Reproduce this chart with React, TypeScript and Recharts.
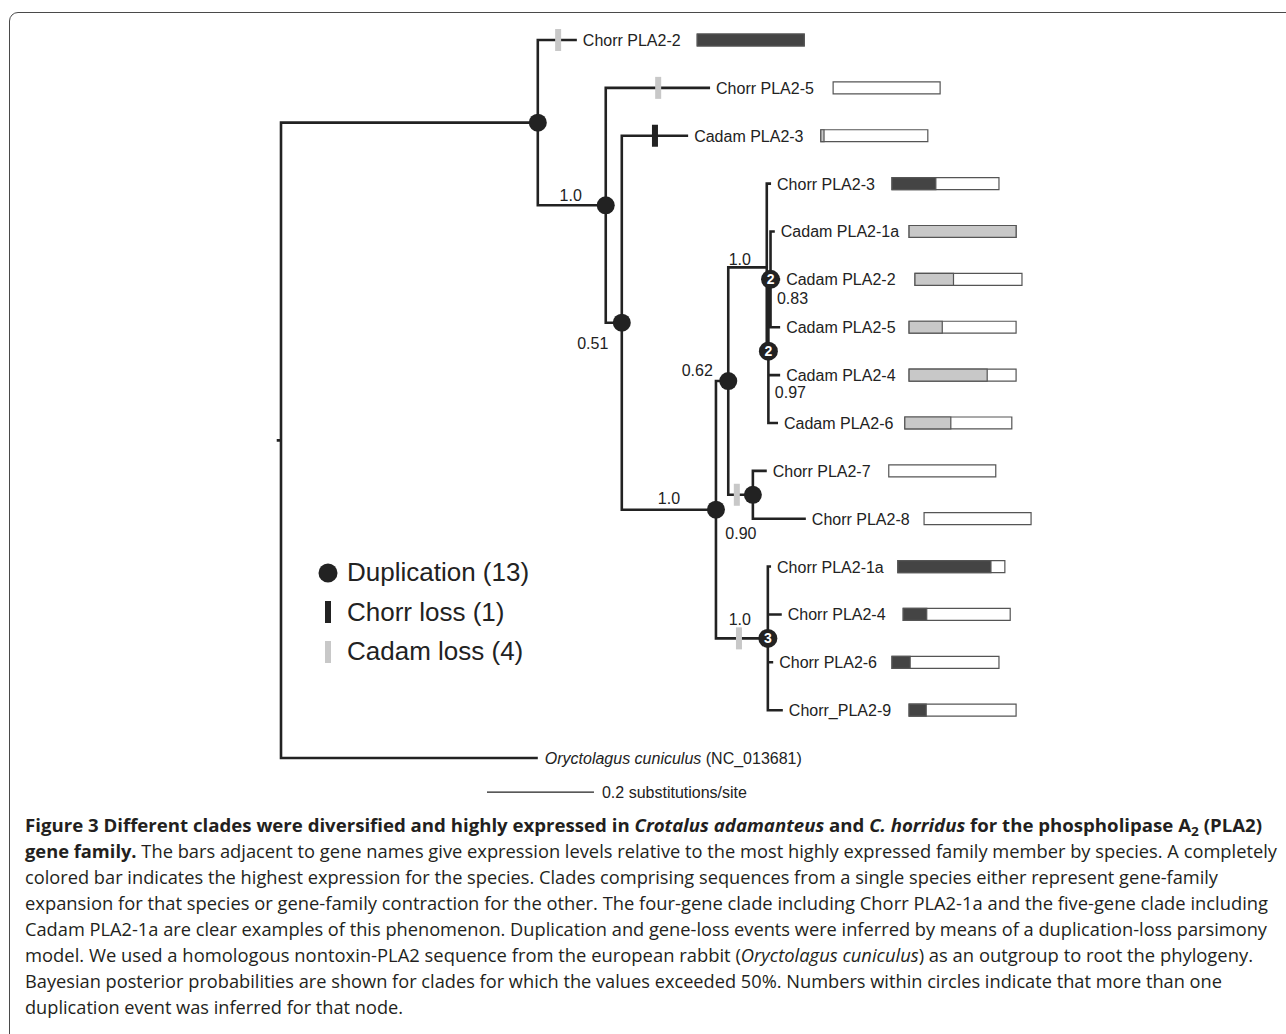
import React from 'react'
import {ComposedChart, Legend, Line, ReferenceArea, ReferenceLine, Scatter, XAxis, YAxis} from 'recharts'

// leaves, listed top to bottom (row = index)
const leafNames = [
    'Chorr PLA2-2', 'Chorr PLA2-5', 'Cadam PLA2-3', 'Chorr PLA2-3', 'Cadam PLA2-1a', 'Cadam PLA2-2',
    'Cadam PLA2-5', 'Cadam PLA2-4', 'Cadam PLA2-6', 'Chorr PLA2-7', 'Chorr PLA2-8', 'Chorr PLA2-1a',
    'Chorr PLA2-4', 'Chorr PLA2-6', 'Chorr_PLA2-9', 'Oryctolagus cuniculus',
]
const leafSpecies = [
    'Chorr', 'Chorr', 'Cadam', 'Chorr', 'Cadam', 'Cadam', 'Cadam', 'Cadam', 'Cadam',
    'Chorr', 'Chorr', 'Chorr', 'Chorr', 'Chorr', 'Chorr', 'Rabbit',
]
const leafParents = ['A', 'B', 'C', 'F', 'H2', 'H2', 'H2', 'H', 'H', 'G', 'G', 'N3', 'N3', 'N3', 'N3', 'root']
// distance from root, substitutions/site
const leafDepths = [0.553, 0.802, 0.761, 0.916, 0.923, 0.933, 0.933, 0.933, 0.929, 0.908, 0.981, 0.916, 0.936, 0.92, 0.938, 0.48]
// expression relative to the most expressed member of the species
const expression = [1.0, 0, 0.03, 0.41, 1.0, 0.36, 0.31, 0.73, 0.43, 0, 0, 0.87, 0.22, 0.17, 0.16, null]
// where each expression bar starts (same units as the tree)
const barStarts = [0.778, 1.032, 1.009, 1.142, 1.174, 1.185, 1.174, 1.174, 1.166, 1.136, 1.202, 1.153, 1.163, 1.142, 1.174, null]
const outgroupAccession = 'NC_013681'

// internal nodes
const nodeIds = ['root', 'A', 'B', 'C', 'D', 'E', 'F', 'H', 'H2', 'G', 'N3']
const nodeParents = [null, 'root', 'A', 'B', 'C', 'D', 'E', 'F', 'H', 'E', 'D']
const nodeDepths = [0, 0.48, 0.607, 0.637, 0.813, 0.836, 0.908, 0.911, 0.915, 0.882, 0.91]
const duplications = [0, 1, 1, 1, 1, 1, 0, 2, 2, 1, 3]
const support = [null, null, '1.0', '0.51', '1.0', '0.62', '1.0', '0.97', '0.83', '0.90', '1.0']

// gene losses: branch (named by its child), position along it, species
const lossBranches = ['Chorr PLA2-2', 'Chorr PLA2-5', 'Cadam PLA2-3', 'G', 'N3']
const lossDepths = [0.518, 0.705, 0.699, 0.852, 0.856]
const lossSpecies = ['Cadam', 'Cadam', 'Chorr', 'Cadam', 'Cadam']

const legendLabels = ['Duplication (13)', 'Chorr loss (1)', 'Cadam loss (4)']
const scaleBarValue = 0.2

const captionLines = [
    [{t: 'Figure 3 Different clades were diversified and highly expressed in ', b: 1}, {t: 'Crotalus adamanteus', b: 1, i: 1}, {t: ' and ', b: 1}, {t: 'C. horridus', b: 1, i: 1}, {t: ' for the phospholipase A', b: 1}, {t: '2', b: 1, sub: 1}, {t: ' (PLA2)', b: 1}],
    [{t: 'gene family.', b: 1}, {t: ' The bars adjacent to gene names give expression levels relative to the most highly expressed family member by species. A completely'}],
    [{t: 'colored bar indicates the highest expression for the species. Clades comprising sequences from a single species either represent gene-family'}],
    [{t: 'expansion for that species or gene-family contraction for the other. The four-gene clade including Chorr PLA2-1a and the five-gene clade including'}],
    [{t: 'Cadam PLA2-1a are clear examples of this phenomenon. Duplication and gene-loss events were inferred by means of a duplication-loss parsimony'}],
    [{t: 'model. We used a homologous nontoxin-PLA2 sequence from the european rabbit ('}, {t: 'Oryctolagus cuniculus', i: 1}, {t: ') as an outgroup to root the phylogeny.'}],
    [{t: 'Bayesian posterior probabilities are shown for clades for which the values exceeded 50%. Numbers within circles indicate that more than one'}],
    [{t: 'duplication event was inferred for that node.'}],
]
const captionRight = [1262, 1277, 1218, 1268, 1267, 1253, 1222, 403]

// layout
const W = 1286
const H = 810
const ROOT_PX = 281
const UNIT_PX = 535
const TOP_PX = 40
const ROW_PX = 47.87
const X_DOMAIN = [-ROOT_PX / UNIT_PX, (W - ROOT_PX) / UNIT_PX]
const Y_DOMAIN = [-TOP_PX / ROW_PX, (H - TOP_PX) / ROW_PX]
const FONT = '"Liberation Sans", Arial, Helvetica, sans-serif'
const INK = '#222'
const speciesColor: Record<string, string> = {Chorr: '#444444', Cadam: '#c8c8c8'}
const supportOffset: Record<string, [number, number]> = {
    B: [-35, -4], C: [-29, 26], D: [-47, -6], E: [-31, -5], F: [-27, -2],
    H: [22, 47], H2: [22, 25], G: [-12, 44], N3: [-28, -13],
}

const depthOf = (id: string): number => {
    const li = leafNames.indexOf(id)
    return li >= 0 ? leafDepths[li] : nodeDepths[nodeIds.indexOf(id)]
}
const rowOf = (id: string): number => {
    const li = leafNames.indexOf(id)
    if (li >= 0) return li
    const kids = [
        ...leafNames.filter((_, i) => leafParents[i] === id),
        ...nodeIds.filter((_, i) => nodeParents[i] === id),
    ]
    const rows = kids.map(rowOf)
    return (Math.min(...rows) + Math.max(...rows)) / 2
}
const parentOf = (id: string): string | null => {
    const li = leafNames.indexOf(id)
    return li >= 0 ? leafParents[li] : nodeParents[nodeIds.indexOf(id)]
}

// elbow edges, one polyline broken by nulls
const edgePoints: {x: number, y: number | null}[] = []
const rootRow = rowOf('root')
edgePoints.push({x: -0.008, y: rootRow}, {x: 0, y: rootRow}, {x: 0, y: null})
;[...nodeIds.slice(1), ...leafNames].forEach((id) => {
    const p = parentOf(id) as string
    edgePoints.push(
        {x: depthOf(p), y: rowOf(p)},
        {x: depthOf(p), y: rowOf(id)},
        {x: depthOf(id), y: rowOf(id)},
        {x: depthOf(id), y: null},
    )
})

const dupPoints = nodeIds
    .map((id, i) => ({x: nodeDepths[i], y: rowOf(id), n: duplications[i]}))
    .filter((d) => d.n > 0)
const supportPoints = nodeIds
    .map((id, i) => ({x: nodeDepths[i], y: rowOf(id), id, v: support[i]}))
    .filter((d) => d.v)
const lossPoints = lossBranches.map((b, i) => ({x: lossDepths[i], y: rowOf(b), s: lossSpecies[i]}))
const leafPoints = leafNames.map((name, i) => ({x: leafDepths[i], y: i, name, outgroup: leafSpecies[i] === 'Rabbit'}))
const scaleRow = 15.71
const scaleStart = 0.385

const renderDup = (props: any) => {
    const {cx, cy, payload} = props
    if (payload.n > 1) {
        return (
            <g>
                <circle cx={cx} cy={cy} r={9.5} fill={INK} />
                <text x={cx} y={cy + 5} textAnchor="middle" fontSize={14} fontWeight="bold" fill="#fff">{payload.n}</text>
            </g>
        )
    }
    return <circle cx={cx} cy={cy} r={9} fill={INK} />
}
const renderLoss = (props: any) => {
    const {cx, cy, payload} = props
    return <rect x={cx - 3} y={cy - 11} width={6} height={22} fill={payload.s === 'Chorr' ? INK : '#c8c8c8'} />
}
const renderLeaf = (props: any) => {
    const {cx, cy, payload} = props
    if (payload.outgroup) {
        return (
            <text x={cx + 7} y={cy + 6} fontSize={16} fill={INK}>
                <tspan fontStyle="italic">{payload.name}</tspan> ({outgroupAccession})
            </text>
        )
    }
    return <text x={cx + 6} y={cy + 6} fontSize={16} fill={INK}>{payload.name}</text>
}
const renderSupport = (props: any) => {
    const {cx, cy, payload} = props
    const [dx, dy] = supportOffset[payload.id] || [0, 0]
    return <text x={cx + dx} y={cy + dy} textAnchor="middle" fontSize={16} fill={INK}>{payload.v}</text>
}
const renderScaleLabel = (props: any) => (
    <text x={props.cx + 8} y={props.cy + 6} fontSize={16} fill={INK}>{scaleBarValue} substitutions/site</text>
)

const legendIcon = (i: number) => {
    if (i === 0) return <circle cx={10} cy={13} r={9.5} fill={INK} />
    return <rect x={7} y={2} width={6} height={22} fill={i === 1 ? INK : '#c8c8c8'} />
}
const renderLegend = () => (
    <div style={{fontFamily: FONT, fontSize: 26, color: INK}}>
        {legendLabels.map((label, i) => (
            <div key={label} style={{display: 'flex', alignItems: 'center', height: 39.5}}>
                <svg width={20} height={26}>{legendIcon(i)}</svg>
                <span style={{marginLeft: 9, whiteSpace: 'nowrap'}}>{label}</span>
            </div>
        ))}
    </div>
)

const Caption = () => (
    <svg width={W} height={230} style={{position: 'absolute', left: 0, top: 800}}>
        {captionLines.map((runs, li) => (
            <text
                key={li}
                x={25}
                y={32 + li * 26}
                textLength={captionRight[li] - 25}
                lengthAdjust="spacingAndGlyphs"
                fontFamily='"Open Sans", "DejaVu Sans", sans-serif'
                fontSize={17.8}
                fill="#231f20"
            >
                {runs.map((r: any, k) => {
                    const prevSub = k > 0 && (runs[k - 1] as any).sub
                    return (
                        <tspan
                            key={k}
                            fontWeight={r.b ? 'bold' : 'normal'}
                            fontStyle={r.i ? 'italic' : 'normal'}
                            fontSize={r.sub ? 13 : undefined}
                            dy={r.sub ? 4 : prevSub ? -4 : undefined}
                        >
                            {r.t}
                        </tspan>
                    )
                })}
            </text>
        ))}
    </svg>
)

const App = () => {
    return (
        <div style={{position: 'absolute', left: 0, top: 0, width: W, height: 1034, overflow: 'hidden', background: '#fff'}}>
            <div style={{position: 'absolute', left: 9, top: 12, width: 1300, height: 1040, border: '1.5px solid #4a4a4a', borderRadius: 9}} />
            <div style={{position: 'absolute', left: 0, top: 0}}>
                <ComposedChart width={W} height={H} margin={{top: 0, right: 0, bottom: 0, left: 0}} style={{fontFamily: FONT}}>
                    <XAxis type="number" dataKey="x" domain={X_DOMAIN} hide allowDataOverflow />
                    <YAxis type="number" dataKey="y" domain={Y_DOMAIN} hide reversed allowDataOverflow />
                    {leafNames.map((name, i) => barStarts[i] == null ? null : (
                        <ReferenceArea
                            key={'bg' + name}
                            x1={barStarts[i] as number}
                            x2={(barStarts[i] as number) + scaleBarValue}
                            y1={i - 0.125}
                            y2={i + 0.125}
                            fill="#fff"
                            fillOpacity={1}
                            stroke="#555"
                            strokeWidth={1.2}
                        />
                    ))}
                    {leafNames.map((name, i) => !expression[i] ? null : (
                        <ReferenceArea
                            key={'fg' + name}
                            x1={barStarts[i] as number}
                            x2={(barStarts[i] as number) + scaleBarValue * (expression[i] as number)}
                            y1={i - 0.125}
                            y2={i + 0.125}
                            fill={speciesColor[leafSpecies[i]]}
                            fillOpacity={1}
                            stroke="#555"
                            strokeWidth={1.2}
                        />
                    ))}
                    <ReferenceLine
                        segment={[{x: scaleStart, y: scaleRow}, {x: scaleStart + scaleBarValue, y: scaleRow}]}
                        stroke={INK}
                        strokeWidth={1.2}
                    />
                    <Line
                        data={edgePoints}
                        dataKey="y"
                        stroke={INK}
                        strokeWidth={2.6}
                        dot={false}
                        activeDot={false}
                        isAnimationActive={false}
                        legendType="none"
                    />
                    <Scatter data={lossPoints} shape={renderLoss} isAnimationActive={false} legendType="none" />
                    <Scatter data={dupPoints} shape={renderDup} isAnimationActive={false} legendType="none" />
                    <Scatter data={leafPoints} shape={renderLeaf} isAnimationActive={false} legendType="none" />
                    <Scatter data={supportPoints} shape={renderSupport} isAnimationActive={false} legendType="none" />
                    <Scatter data={[{x: scaleStart + scaleBarValue, y: scaleRow}]} shape={renderScaleLabel} isAnimationActive={false} legendType="none" />
                    <Legend
                        layout="vertical"
                        align="center"
                        verticalAlign="middle"
                        content={renderLegend}
                        wrapperStyle={{left: 318, top: 553, width: 260}}
                    />
                </ComposedChart>
            </div>
            <Caption />
        </div>
    )
}

export default App
